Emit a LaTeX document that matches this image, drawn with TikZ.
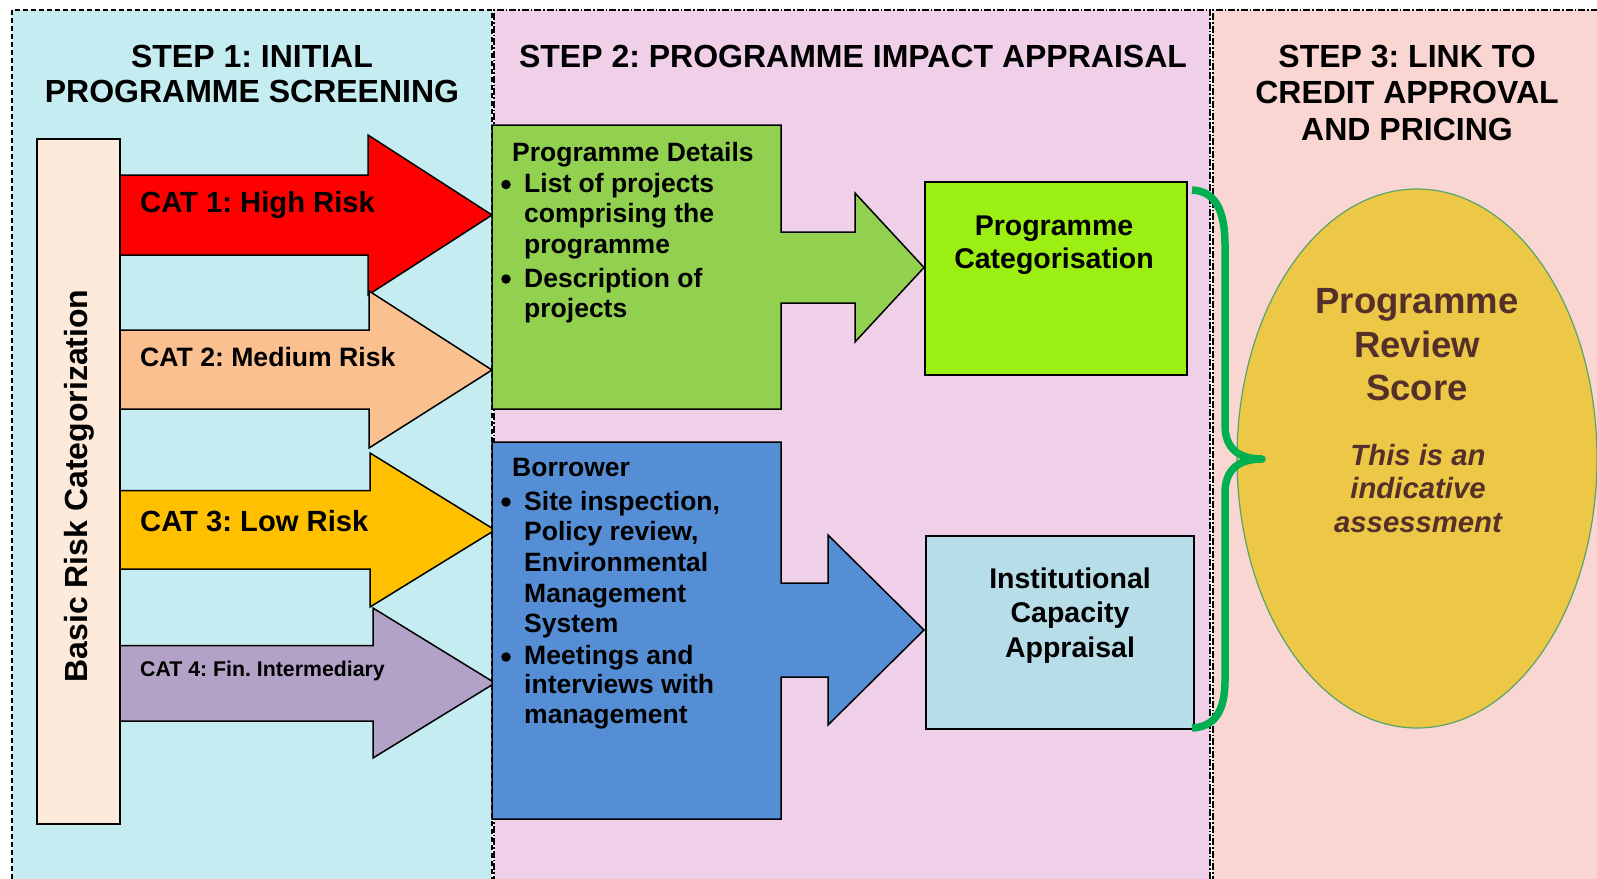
\documentclass[tikz,border=0pt]{standalone}
\usepackage{fontspec}
\setmainfont{Liberation Sans}
\usetikzlibrary{shapes.geometric}
\definecolor{pA}{HTML}{C5ECF0}
\definecolor{pB}{HTML}{F0CFE9}
\definecolor{pC}{HTML}{FAD6D3}
\definecolor{basicf}{HTML}{FDEADA}
\definecolor{catA}{HTML}{FF0000}
\definecolor{catB}{HTML}{FAC090}
\definecolor{catC}{HTML}{FFC000}
\definecolor{catD}{HTML}{B2A2C7}
\definecolor{gboxf}{HTML}{92D050}
\definecolor{bboxf}{HTML}{558ED5}
\definecolor{pcatf}{HTML}{9BEF12}
\definecolor{instf}{HTML}{B7DEE8}
\definecolor{ellf}{HTML}{ECC846}
\definecolor{elld}{HTML}{5AA469}
\definecolor{etxt}{HTML}{55302B}
\definecolor{brc}{HTML}{00B050}
\newcommand\myfs[1]{\fontsize{#1}{#1}\selectfont\bfseries}
\frenchspacing
\begin{document}
\frenchspacing
\begin{tikzpicture}[x=1pt,y=-1pt,
  panelone/.style={fill=pA, draw=black, line width=1.3pt, dash pattern=on 5pt off 3pt},
  paneltwo/.style={draw=black, line width=1.3pt, dash pattern=on 7pt off 2pt on 1.5pt off 2pt},
  shapeline/.style={draw=black, line width=1.5pt, line join=miter},
  hd/.style={font=\myfs{32}, anchor=base, inner sep=0pt},
  boxtxt/.style={font=\myfs{26.5}, anchor=base west, inner sep=0pt},
  midtxt/.style={font=\myfs{28.5}, anchor=base, inner sep=0pt},
  bul/.style={circle, fill=black, inner sep=0pt, minimum size=9.5pt},
  cattxt/.style={anchor=base west, inner sep=0pt},
  bigtxt/.style={font=\myfs{36.5}, text=etxt, anchor=base, inner sep=0pt},
  ittxt/.style={font=\myfs{29.3}\itshape, text=etxt, anchor=base, inner sep=0pt}]
\useasboundingbox (0,0) rectangle (1597,878);
% panels
\path[fill=white] (0,0) rectangle (1597,878);
\draw[panelone] (12,895) -- (12,10) -- (492,10) -- (492,895);
\fill[pB] (494,10) rectangle (1210,895);
\draw[paneltwo] (494,895) -- (494,10) -- (1210,10) -- (1210,895);
\fill[pC] (1213,10) rectangle (1610,895);
\draw[paneltwo] (1213,895) -- (1213,10) -- (1610,10);
% headings
\node[hd] (h1a) at (252,67) {STEP 1: INITIAL};
\node[hd] (h1b) at (252,102) {PROGRAMME SCREENING};
\node[hd] (h2) at (853,67) {STEP 2: PROGRAMME IMPACT APPRAISAL};
\node[hd] (h3a) at (1407,67) {STEP 3: LINK TO};
\node[hd] (h3b) at (1407,103.5) {CREDIT APPROVAL};
\node[hd] (h3c) at (1407,140) {AND PRICING};
% category arrows
\path[shapeline, fill=catA] (119,175) -- (368,175) -- (368,135) -- (492,215) -- (368,295) -- (368,255) -- (119,255) -- cycle;
\path[shapeline, fill=catB] (119,330) -- (369,330) -- (369,291) -- (492,370) -- (369,448) -- (369,409) -- (119,409) -- cycle;
\path[shapeline, fill=catC] (119,490.5) -- (370,490.5) -- (370,453) -- (495,530) -- (370,607) -- (370,569) -- (119,569) -- cycle;
\path[shapeline, fill=catD] (119,645.5) -- (373,645.5) -- (373,608) -- (495,683) -- (373,758) -- (373,721) -- (119,721) -- cycle;
\node[cattxt, font=\myfs{29.2}] (c1) at (140,212) {CAT 1: High Risk};
\node[cattxt, font=\myfs{26.6}] (c2) at (140,366) {CAT 2: Medium Risk};
\node[cattxt, font=\myfs{29.2}] (c3) at (140,531) {CAT 3: Low Risk};
\node[cattxt, font=\myfs{21.3}] (c4) at (140,676) {CAT 4: Fin. Intermediary};
% basic box
\node[shapeline, fill=basicf, anchor=north west, minimum width=83pt, minimum height=685pt, inner sep=0pt] (basic) at (36,138) {};
\node[rotate=90, anchor=base, font=\myfs{32}, inner sep=0pt] (basictxt) at (87,486) {Basic Risk Categorization};
% green box with arrow
\path[shapeline, fill=gboxf] (492,125) -- (781,125) -- (781,232) -- (855,232) -- (855,193) -- (924,267.5) -- (855,342) -- (855,303) -- (781,303) -- (781,409) -- (492,409) -- cycle;
\node[boxtxt] (gh) at (512,161) {Programme Details};
\foreach \yy/\mytext [count=\i] in {192/List of projects, 222/comprising the, 253/programme, 287/Description of, 317/projects}
  \node[boxtxt] (g\i) at (524,\yy) {\mytext};
\node[bul] (gb1) at (506,184.5) {};
\node[bul] (gb2) at (506,279) {};
% blue box with arrow
\path[shapeline, fill=bboxf] (492,442) -- (781,442) -- (781,583) -- (828,583) -- (828,535) -- (924,630) -- (828,725) -- (828,677) -- (781,677) -- (781,819) -- (492,819) -- cycle;
\node[boxtxt] (bh) at (512,476) {Borrower};
\foreach \yy/\mytext [count=\i] in {510/{Site inspection,}, 540/{Policy review,}, 571/Environmental, 602/Management, 632/System, 664/Meetings and, 693/interviews with, 723/management}
  \node[boxtxt] (b\i) at (524,\yy) {\mytext};
\node[bul] (bb1) at (506,502) {};
\node[bul] (bb2) at (506,657) {};
% step 2 result boxes
\node[shapeline, fill=pcatf, anchor=north west, minimum width=262pt, minimum height=193pt, inner sep=0pt] (pcat) at (924,181) {};
\node[midtxt] (pc1) at (1054,235) {Programme};
\node[midtxt] (pc2) at (1054,268) {Categorisation};
\node[shapeline, fill=instf, anchor=north west, minimum width=268pt, minimum height=193pt, inner sep=0pt] (inst) at (925,535) {};
\node[midtxt] (in1) at (1070,588) {Institutional};
\node[midtxt] (in2) at (1070,622) {Capacity};
\node[midtxt] (in3) at (1070,657) {Appraisal};
% ellipse
\node[ellipse, draw=elld, fill=ellf, line width=1.2pt, minimum width=360pt, minimum height=539pt, inner sep=0pt] (score) at (1417,458.5) {};
\node[bigtxt] (s1) at (1417,313) {Programme};
\node[bigtxt] (s2) at (1417,357) {Review};
\node[bigtxt] (s3) at (1417,400) {Score};
\node[ittxt] (i1) at (1418,465) {This is an};
\node[ittxt] (i2) at (1418,498.5) {indicative};
\node[ittxt] (i3) at (1418,532) {assessment};
% brace
\draw[brc, line width=7.5pt, line join=round] (1192,190) .. controls (1216,191) and (1225,212) .. (1225,245) -- (1225,425) .. controls (1225,448) and (1238,459) .. (1262,459) .. controls (1238,459) and (1225,470) .. (1225,493) -- (1225,680) .. controls (1225,712) and (1214,727) .. (1192,728);
\end{tikzpicture}
\end{document}
